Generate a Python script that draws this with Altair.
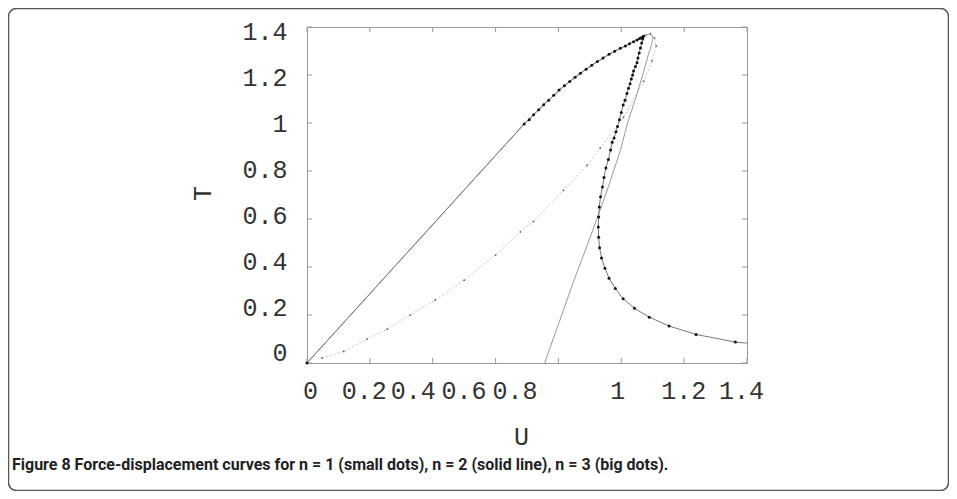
import altair as alt
import pandas as pd

# ---------------- data ----------------
x_ticks = [0, 0.2, 0.4, 0.6, 0.8, 1.0, 1.2, 1.4]
y_ticks = [0, 0.2, 0.4, 0.6, 0.8, 1.0, 1.2, 1.4]

# n = 3 (big dots, joined by a thin line); last point is where the line leaves the frame
n3_u = [0.000, 0.691, 0.707, 0.721, 0.737, 0.753, 0.769, 0.785, 0.802, 0.819, 0.836,
        0.853, 0.870, 0.888, 0.906, 0.924, 0.942, 0.961, 0.979, 0.997, 1.013, 1.026,
        1.039, 1.050, 1.058, 1.065, 1.069, 1.071, 1.068, 1.065, 1.061, 1.057, 1.053,
        1.050, 1.045, 1.039, 1.036, 1.032, 1.028, 1.023, 1.018, 1.012, 1.006, 1.000,
        0.994, 0.988, 0.983, 0.977, 0.971, 0.966, 0.959, 0.951, 0.945, 0.940, 0.934,
        0.930, 0.928, 0.927, 0.928, 0.931, 0.937, 0.948, 0.961, 0.981, 1.006, 1.042,
        1.089, 1.152, 1.238, 1.363, 1.400]
n3_T = [0.000, 0.996, 1.014, 1.034, 1.055, 1.076, 1.095, 1.116, 1.137, 1.155, 1.173,
        1.191, 1.207, 1.224, 1.241, 1.256, 1.271, 1.286, 1.299, 1.311, 1.321, 1.330,
        1.339, 1.346, 1.352, 1.356, 1.359, 1.361, 1.350, 1.333, 1.312, 1.292, 1.271,
        1.251, 1.235, 1.217, 1.200, 1.183, 1.164, 1.145, 1.123, 1.095, 1.075, 1.044,
        1.014, 0.985, 0.964, 0.938, 0.920, 0.888, 0.848, 0.812, 0.773, 0.733, 0.693,
        0.650, 0.608, 0.567, 0.524, 0.480, 0.438, 0.395, 0.353, 0.310, 0.268, 0.228,
        0.191, 0.154, 0.119, 0.087, 0.083]

# n = 2 (solid line)
n2_u = [0.000, 0.691, 0.753, 0.819, 0.888, 0.961, 0.997, 1.026, 1.050, 1.065, 1.075,
        1.087, 1.097, 1.101, 1.097, 1.085, 1.068, 1.045, 1.020, 0.997, 0.950, 0.900,
        0.851, 0.801, 0.756]
n2_T = [0.000, 0.996, 1.076, 1.155, 1.224, 1.286, 1.311, 1.330, 1.346, 1.356, 1.364,
        1.370, 1.366, 1.354, 1.330, 1.280, 1.200, 1.100, 1.000, 0.885, 0.700, 0.520,
        0.350, 0.165, 0.000]

# n = 1 (small dots)
n1_u = [0.048, 0.117, 0.191, 0.255, 0.329, 0.408, 0.500, 0.600, 0.679, 0.721, 0.816,
        0.891, 0.933, 1.007, 1.071, 1.098, 1.111, 1.106, 1.093, 1.078]
n1_T = [0.021, 0.048, 0.100, 0.141, 0.200, 0.263, 0.345, 0.450, 0.546, 0.590, 0.719,
        0.823, 0.896, 1.023, 1.173, 1.259, 1.321, 1.355, 1.372, 1.366]

caption = ("Figure 8 Force-displacement curves for n = 1 (small dots), "
           "n = 2 (solid line), n = 3 (big dots).")

# ---------------- tables ----------------
df3 = pd.DataFrame({"u": n3_u, "T": n3_T, "i": range(len(n3_u))})
df3_dots = df3.iloc[:-1]
df2 = pd.DataFrame({"u": n2_u, "T": n2_T, "i": range(len(n2_u))})
df1 = pd.DataFrame({"u": n1_u, "T": n1_T, "i": range(len(n1_u))})
dfx = pd.DataFrame({"v": x_ticks})
dfy = pd.DataFrame({"v": y_ticks})
one = pd.DataFrame({"a": [0]})

W, H = 440, 336
MONO = "Courier New, Liberation Mono, monospace"
CAPFONT = "Roboto, Liberation Sans, sans-serif"
TXT = "#333333"

xs = alt.Scale(domain=[0, 1.4], nice=False, zero=False)
ys = alt.Scale(domain=[0, 1.4], nice=False, zero=False)

# label shifts as seen in the reference (crowded x labels, compressed y labels)
x_shift = {0: 3, 0.2: -6, 0.4: -20, 0.6: -32, 0.8: -44, 1.0: -4, 1.2: -1, 1.4: -6}
y_shift = {0: -11, 0.2: -8, 0.4: -6, 0.6: -4, 0.8: -2, 1.0: 0, 1.2: 2, 1.4: 4}


def shift_cond(shifts):
    conds = [{"test": f"abs(datum.value - {k}) < 0.01", "value": v}
             for k, v in shifts.items()]
    return {"condition": conds, "value": 0}


xaxis = alt.Axis(values=x_ticks, format="~g", domain=False, ticks=False, grid=False,
                 labelFlush=False, labelOverlap=False, labelBound=False,
                 labelPadding=15, labelOffset=shift_cond(x_shift),
                 labelFont=MONO, labelFontSize=25, labelColor=TXT,
                 title="U", titleFont=MONO, titleFontSize=25, titleFontWeight="normal",
                 titleColor=TXT, titleX=214, titleY=73, titleAlign="center",
                 titleBaseline="middle")
yaxis = alt.Axis(values=y_ticks, format="~g", domain=False, ticks=False, grid=False,
                 labelFlush=False, labelOverlap=False, labelBound=False,
                 labelPadding=20, labelOffset=shift_cond(y_shift),
                 labelFont=MONO, labelFontSize=25, labelColor=TXT,
                 title="T", titleFont=MONO, titleFontSize=25, titleFontWeight="normal",
                 titleColor=TXT, titleX=-105, titleY=166, titleAlign="center",
                 titleBaseline="middle")


def X(field):
    return alt.X(f"{field}:Q", scale=xs, axis=xaxis)


def Y(field):
    return alt.Y(f"{field}:Q", scale=ys, axis=yaxis)


border = alt.Chart(one).mark_rect(fillOpacity=0, stroke="#555555", strokeWidth=1.5,
                                  cornerRadius=8).encode(
    x=alt.value(-298.5), x2=alt.value(641.5), y=alt.value(-18.5), y2=alt.value(463.5))

n1_line = alt.Chart(df1).mark_line(color="#c4c4c4", strokeWidth=1, strokeDash=[2, 2],
                                   clip=True).encode(
    x=X("u"), y=Y("T"), order=alt.Order("i:Q"))
n1_dots = alt.Chart(df1).mark_circle(size=3, color="#555555", opacity=1).encode(
    x=X("u"), y=Y("T"))

n2_line = alt.Chart(df2).mark_line(color="#9a9a9a", strokeWidth=1, clip=True).encode(
    x=X("u"), y=Y("T"), order=alt.Order("i:Q"))

n3_line = alt.Chart(df3).mark_line(color="#777777", strokeWidth=1, clip=True).encode(
    x=X("u"), y=Y("T"), order=alt.Order("i:Q"))
n3_dots = alt.Chart(df3_dots).mark_circle(size=9, color="#111111", opacity=1).encode(
    x=X("u"), y=Y("T"))

TC = "#9a9a9a"
tick_bottom = alt.Chart(dfx).mark_rule(color=TC, strokeWidth=1).encode(
    x=X("v"), y=alt.value(H), y2=alt.value(H - 5))
tick_top = alt.Chart(dfx).mark_rule(color=TC, strokeWidth=1).encode(
    x=X("v"), y=alt.value(0), y2=alt.value(5))
tick_left = alt.Chart(dfy).mark_rule(color=TC, strokeWidth=1).encode(
    y=Y("v"), x=alt.value(0), x2=alt.value(5))
tick_right = alt.Chart(dfy).mark_rule(color=TC, strokeWidth=1).encode(
    y=Y("v"), x=alt.value(W), x2=alt.value(W - 5))

cap = alt.Chart(one).mark_text(align="left", baseline="middle", font=CAPFONT,
                               fontSize=16, fontWeight="bold", color="#222222").encode(
    x=alt.value(-295), y=alt.value(438), text=alt.value(caption))

chart = alt.layer(
    border, tick_bottom, tick_top, tick_left, tick_right,
    n1_line, n1_dots, n2_line, n3_line, n3_dots, cap
).properties(
    width=W, height=H,
    padding={"left": 299, "top": 19, "right": 202, "bottom": 128},
    autosize=alt.AutoSizeParams(type="none"),
).configure_view(stroke="#9a9a9a", strokeWidth=1)

chart.save("out.html", embed_options={"renderer": "svg", "actions": False})
